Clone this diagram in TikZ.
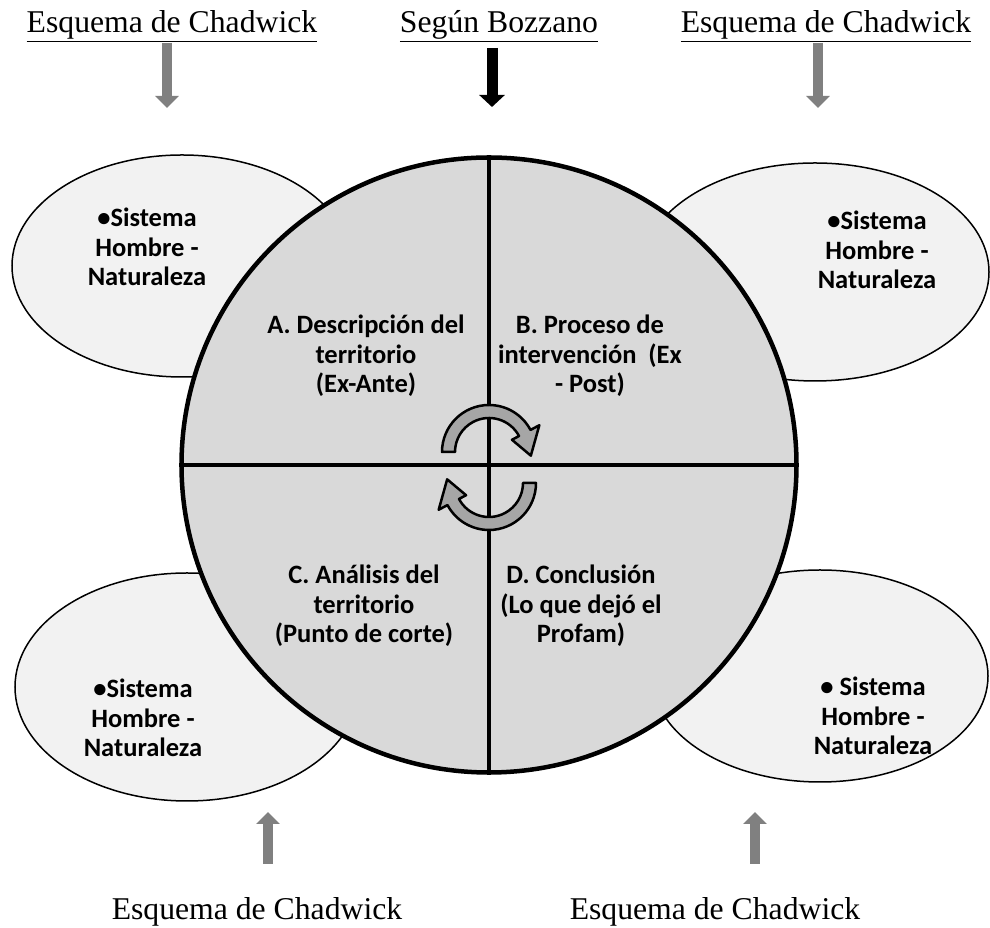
\documentclass[tikz,border=0pt]{standalone}
\usepackage{fontspec}
\setmainfont{Liberation Serif}
\newfontfamily\calibri{Carlito}[BoldFont={Carlito Bold}]
\usetikzlibrary{positioning,arrows.meta,shapes.geometric}

\begin{document}
\begin{tikzpicture}[x=1pt,y=1pt,
	elipse/.style={ellipse,draw,line width=1.5pt,fill=black!5,inner sep=0pt},
	texto/.style={font=\calibri\bfseries\fontsize{26.5}{29.5}\selectfont,align=center,inner sep=0pt},
	titulo/.style={font=\fontsize{31.7}{36}\selectfont,inner sep=0pt,anchor=base},
	flecha/.style={line width=10pt,black!50,-{Triangle[length=12pt,width=23pt]}},
	giro/.style={draw=black,line width=2.5pt,fill=black!35,line join=round}]
	\useasboundingbox (0,0) rectangle (990,928);
	% elipses de Chadwick
	\node[elipse,minimum width=340,minimum height=222] (eTL) at (182,662) {};
	\node[elipse,minimum width=348,minimum height=218] (eTR) at (815,656) {};
	\node[elipse,minimum width=344,minimum height=228] (eBL) at (187,241) {};
	\node[elipse,minimum width=336,minimum height=212] (eBR) at (820,252) {};
	\node[texto] (sTL) at (147,681) {•Sistema\\Hombre -\\Naturaleza};
	\node[texto] (sTR) at (877,678) {•Sistema\\Hombre -\\Naturaleza};
	\node[texto] (sBL) at (143,210) {•Sistema\\Hombre -\\Naturaleza};
	\node[texto] (sBR) at (873,212) {• Sistema\\Hombre -\\Naturaleza};
	% circulo de Bozzano
	\node[circle,draw,line width=4.5pt,fill=black!15,minimum size=615,inner sep=0pt] (circ) at (489,463) {};
	\draw[line width=4.5pt] (circ.north) -- (circ.south);
	\draw[line width=4.5pt] (circ.west) -- (circ.east);
	\node[texto] (qA) at (366,572) {A. Descripción del\\territorio\\(Ex-Ante)};
	\node[texto] (qB) at (590,572) {B. Proceso de\\intervención\ \ (Ex\\- Post)};
	\node[texto] (qC) at (364,322) {C. Análisis del\\territorio\\(Punto de corte)};
	\node[texto] (qD) at (581,322) {D. Conclusión\\(Lo que dejó el\\Profam)};
	% flechas circulares
	\foreach \cx/\cy/\ang in {489/476/0,489/445/180}{
	\begin{scope}[shift={(\cx,\cy)},rotate=\ang]
		\path[giro] (180:34) -- (180:47) arc[start angle=180,end angle=28,radius=47]
		-- (28:57) -- (-5:42) -- (28:26) -- (28:34) arc[start angle=28,end angle=180,radius=34] -- cycle;
	\end{scope}}
	% titulos
	\node[titulo] (tTL) at (172,895) {\underline{Esquema de Chadwick}};
	\node[titulo] (tB) at (499,895) {\underline{Según Bozzano}};
	\node[titulo] (tTR) at (826,895) {\underline{Esquema de Chadwick}};
	\node[titulo] (tBL) at (257,8) {\underline{Esquema de Chadwick}};
	\node[titulo] (tBR) at (715,8) {\underline{Esquema de Chadwick}};
	% flechas
	\coordinate (aTL) at (167,885); \coordinate (bTL) at (167,820);
	\coordinate (aB) at (492,880); \coordinate (bB) at (492,821);
	\coordinate (aTR) at (818,885); \coordinate (bTR) at (818,820);
	\coordinate (aBL) at (268,64); \coordinate (bBL) at (268,116);
	\coordinate (aBR) at (755,64); \coordinate (bBR) at (755,116);
	\draw[flecha] (aTL) -- (bTL);
	\draw[flecha,black,line width=11pt,-{Triangle[length=12pt,width=25pt]}] (aB) -- (bB);
	\draw[flecha] (aTR) -- (bTR);
	\draw[flecha] (aBL) -- (bBL);
	\draw[flecha] (aBR) -- (bBR);
\end{tikzpicture}
\end{document}
